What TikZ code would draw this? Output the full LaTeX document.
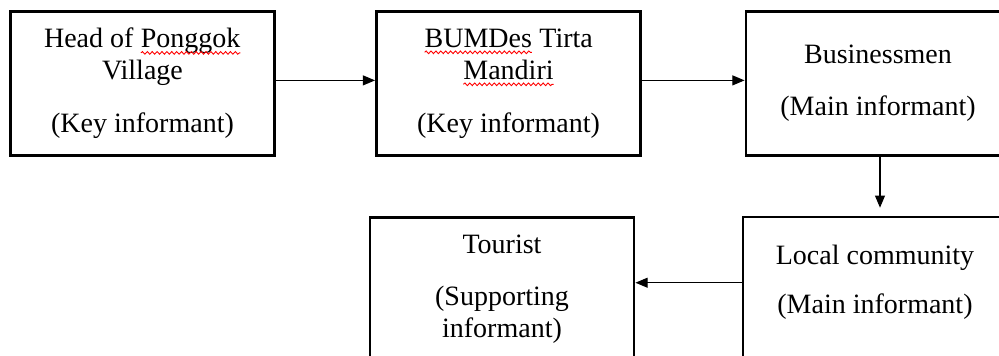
\documentclass[tikz,border=0pt]{standalone}
\usepackage{fontspec}
\setmainfont{Liberation Serif}
\usetikzlibrary{arrows.meta,decorations.pathmorphing}

\tikzset{
  infobox/.style={draw, line width=1.3pt, minimum width=118.8pt, minimum height=64.4pt,
    inner sep=0pt, align=center, font=\fontsize{12.6}{14.4}\selectfont},
  flow/.style={line width=0.5pt, -{Triangle[length=5.5pt,width=4.5pt]}}
}
% red wavy underline under a word
\newcommand{\spellmark}[1]{\tikz[baseline=(sw.base)]{%
  \node[draw=none, inner sep=0pt, outer sep=0pt, minimum width=0pt, minimum height=0pt] (sw) {#1};
  \draw[red, line width=0.4pt, decorate, decoration={snake, amplitude=0.6pt, segment length=2.2pt}]
    ([yshift=-2.3pt]sw.base west) -- ([yshift=-2.3pt]sw.base east);}}

\begin{document}
\begin{tikzpicture}[x=0.45pt,y=-0.45pt]
\useasboundingbox (0,0) rectangle (999,356);
\clip (0,0) rectangle (999,356);

% top row
\node[infobox] (head) at (142.5,83.5) {Head of \spellmark{Ponggok}\\Village\\[9.5pt](Key informant)};
\node[infobox] (bumdes) at (508.5,83.5) {\spellmark{BUMDes} Tirta\\\spellmark{Mandiri}\\[9.5pt](Key informant)};
\node[infobox] (biz) at (878,83.5) {Businessmen\\[9pt](Main informant)};

% bottom row
\node[infobox] (local) at (875,288.5) {Local community\\[7.6pt](Main informant)\\[-6pt]\mbox{}};
\node[infobox] (tourist) at (502,289) {Tourist\\[9pt](Supporting\\informant)};

% arrows
\draw[flow] ([yshift=1.4pt]head.east) -- ([yshift=1.4pt]bumdes.west);
\draw[flow] ([yshift=1.4pt]bumdes.east) -- ([yshift=1.4pt]biz.west);
\draw[flow, shorten >=3.5pt] ([xshift=0.9pt]biz.south) -- ([xshift=0.9pt]biz.south |- local.north);
\draw[flow] ([yshift=2.6pt]local.west) -- ([yshift=2.6pt]local.west -| tourist.east);
\end{tikzpicture}
\end{document}
